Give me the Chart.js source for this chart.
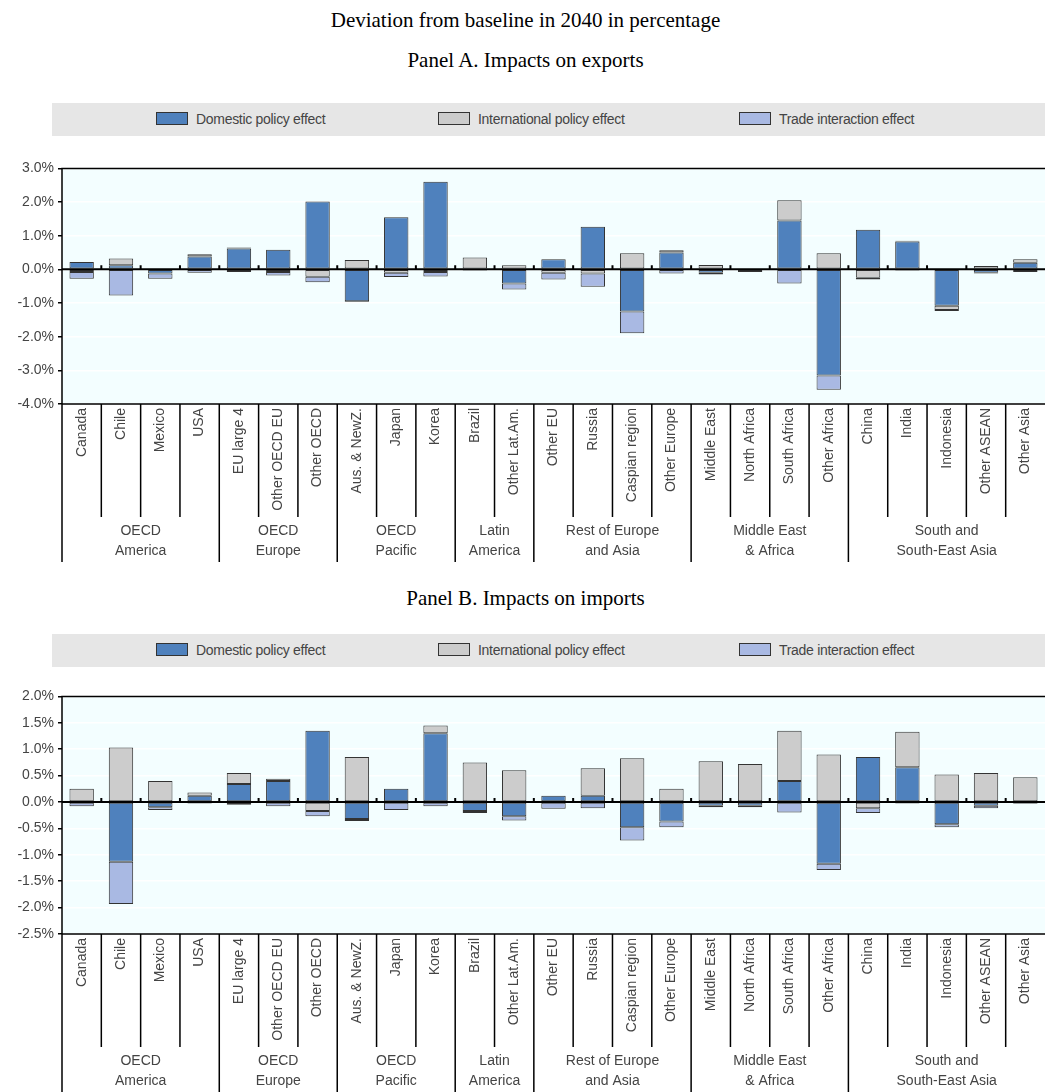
<!DOCTYPE html>
<html>
<head>
<meta charset="utf-8">
<script src="https://cdn.jsdelivr.net/npm/chart.js@4"></script>
<style>
  body { margin: 0; background: #fff; font-family: "Liberation Sans", Arial, sans-serif; }
  .title { font-family: "Liberation Serif", serif; font-size: 21px; text-align: center; color: #000; }
  .legend { margin-left: 52px; width: 993px; height: 33px; background: #e6e6e6; position: relative; font-size: 14px; color: #444; }
  .legend span { position: absolute; top: 8px; letter-spacing: -0.3px; }
  .legend i { display: inline-block; width: 30px; height: 11px; border: 1px solid #333; margin-right: 8px; vertical-align: -1px; }
  canvas { display: block; }
</style>
</head>
<body>
<div class="title" style="padding-top:8px;height:28px">Deviation from baseline in 2040 in percentage</div>
<div class="title" style="padding-top:12px;height:36px">Panel A. Impacts on exports</div>
<div class="legend" style="margin-top:19px"><span style="left:104px"><i style="background:#4f81bd"></i>Domestic policy effect</span><span style="left:386px"><i style="background:#cccccc"></i>International policy effect</span><span style="left:687px"><i style="background:#a9b9e3"></i>Trade interaction effect</span></div>
<div style="height:410px;width:1051px;margin-top:20px"><canvas id="chartA"></canvas></div>
<div class="title" style="height:38px;padding-top:20px">Panel B. Impacts on imports</div>
<div class="legend" style="margin-top:10px"><span style="left:104px"><i style="background:#4f81bd"></i>Domestic policy effect</span><span style="left:386px"><i style="background:#cccccc"></i>International policy effect</span><span style="left:687px"><i style="background:#a9b9e3"></i>Trade interaction effect</span></div>
<div style="height:412px;width:1051px;margin-top:17px"><canvas id="chartB"></canvas></div>
<script>
const categories = ["Canada","Chile","Mexico","USA","EU large 4","Other OECD EU","Other OECD","Aus. & NewZ.","Japan","Korea","Brazil","Other Lat.Am.","Other EU","Russia","Caspian region","Other Europe","Middle East","North Africa","South Africa","Other Africa","China","India","Indonesia","Other ASEAN","Other Asia"];
const groups = [
  { name: ["OECD", "America"], start: 0, end: 3 },
  { name: ["OECD", "Europe"], start: 4, end: 6 },
  { name: ["OECD", "Pacific"], start: 7, end: 9 },
  { name: ["Latin", "America"], start: 10, end: 11 },
  { name: ["Rest of Europe", "and Asia"], start: 12, end: 15 },
  { name: ["Middle East", "& Africa"], start: 16, end: 19 },
  { name: ["South and", "South-East Asia"], start: 20, end: 24 }
];

// Panel A: exports
const exportsDomestic = [0.22,0.12,-0.12,0.38,0.62,0.58,2.02,-0.95,1.55,2.6,-0.03,-0.42,0.3,1.27,-1.25,0.5,-0.1,-0.08,1.45,-3.15,1.18,0.83,-1.08,-0.1,0.2];
const exportsInternational = [-0.08,0.2,0,0.07,0.03,-0.08,-0.22,0.28,-0.1,-0.08,0.35,0.12,-0.1,-0.12,0.48,0.07,0.13,0,0.6,0.48,-0.25,0.02,-0.13,0.1,0.1];
const exportsInteraction = [-0.2,-0.78,-0.16,-0.1,-0.08,-0.1,-0.16,-0.02,-0.13,-0.13,0,-0.18,-0.2,-0.4,-0.65,-0.12,-0.05,0,-0.42,-0.43,-0.05,-0.03,-0.03,-0.02,-0.08];
const exportsTicks = [-4, 3, 1];

// Panel B: imports
const importsDomestic = [0,-1.13,-0.1,0.12,0.34,0.4,1.35,-0.32,0.25,1.3,-0.17,-0.27,0.12,0.12,-0.48,-0.37,-0.07,-0.07,0.4,-1.17,0.85,0.66,-0.42,-0.07,-0.03];
const importsInternational = [0.25,1.03,0.4,0.06,0.21,0.04,-0.17,0.85,0,0.15,0.75,0.6,0,0.52,0.83,0.25,0.77,0.72,0.95,0.9,-0.12,0.67,0.52,0.55,0.47];
const importsInteraction = [-0.08,-0.8,-0.05,-0.03,-0.05,-0.08,-0.1,-0.04,-0.15,-0.08,-0.04,-0.08,-0.13,-0.12,-0.25,-0.11,-0.03,-0.03,-0.2,-0.12,-0.09,-0.03,-0.06,-0.05,-0.01];
const importsTicks = [-2.5, 2, 0.5];

const labelPlugin = {
  id: 'oecdLabels',
  beforeDraw(chart) {
    const { ctx, chartArea: a } = chart;
    ctx.save();
    ctx.fillStyle = '#f3feff';
    ctx.fillRect(a.left, a.top, a.right - a.left, a.bottom - a.top);
    ctx.restore();
  },
  afterDatasetsDraw(chart) {
    const { ctx, chartArea: a, scales: { x, y } } = chart;
    const half = (x.getPixelForValue(1) - x.getPixelForValue(0)) / 2;
    const y0 = y.getPixelForValue(0);
    ctx.save();
    // zero line and ticks
    ctx.strokeStyle = '#000';
    ctx.lineWidth = 2;
    ctx.beginPath();
    ctx.moveTo(a.left, y0); ctx.lineTo(a.right, y0);
    for (let i = 1; i < categories.length; i++) {
      const px = x.getPixelForValue(i) - half;
      ctx.moveTo(px, y0 - 4); ctx.lineTo(px, y0);
    }
    ctx.stroke();
    // frame
    ctx.lineWidth = 1.5;
    ctx.beginPath();
    ctx.moveTo(a.left, a.bottom); ctx.lineTo(a.left, a.top); ctx.lineTo(a.right, a.top);
    ctx.moveTo(a.left, a.bottom); ctx.lineTo(a.right, a.bottom);
    ctx.stroke();
    // category separators
    const groupStarts = groups.map(g => g.start);
    ctx.beginPath();
    for (let i = 0; i < categories.length; i++) {
      const px = x.getPixelForValue(i) - half;
      const long = groupStarts.includes(i);
      ctx.moveTo(px, a.bottom); ctx.lineTo(px, a.bottom + (long ? 158 : 113));
    }
    ctx.stroke();
    // rotated category labels
    ctx.fillStyle = '#444';
    ctx.font = '14px "Liberation Sans Narrow", "Liberation Sans", Arial, sans-serif';
    ctx.textAlign = 'right';
    ctx.textBaseline = 'middle';
    categories.forEach((c, i) => {
      ctx.save();
      ctx.translate(x.getPixelForValue(i), a.bottom + 4);
      ctx.rotate(-Math.PI / 2);
      ctx.fillText(c, 0, 0);
      ctx.restore();
    });
    // group labels
    ctx.textAlign = 'center';
    groups.forEach(g => {
      const cx = (x.getPixelForValue(g.start) + x.getPixelForValue(g.end)) / 2;
      ctx.fillText(g.name[0], cx, a.bottom + 127);
      ctx.fillText(g.name[1], cx, a.bottom + 147);
    });
    ctx.restore();
  }
};

function makePanel(id, dom, intl, inter, ticks) {
  const [min, max, step] = ticks;
  const ds = (label, data, color) => ({
    label, data, backgroundColor: color, borderColor: '#333', borderWidth: 1,
    barPercentage: 0.62, categoryPercentage: 1, borderSkipped: false
  });
  new Chart(document.getElementById(id), {
    type: 'bar',
    data: {
      labels: categories,
      datasets: [
        ds('Domestic policy effect', dom, '#4f81bd'),
        ds('International policy effect', intl, '#cccccc'),
        ds('Trade interaction effect', inter, '#a9b9e3')
      ]
    },
    plugins: [labelPlugin],
    options: {
      responsive: true,
      maintainAspectRatio: false,
      animation: false,
      layout: { padding: { top: 12, bottom: 162, right: 6 } },
      plugins: { legend: { display: false }, tooltip: { enabled: false } },
      scales: {
        x: { stacked: true, display: false },
        y: {
          stacked: true, min, max,
          afterFit(s) { s.width = 62; },
          border: { display: false },
          grid: { color: '#ffffff', lineWidth: 1.5, drawTicks: true, tickLength: 4, tickColor: '#000' },
          ticks: {
            stepSize: step, color: '#444', padding: 4,
            font: { size: 14, family: '"Liberation Sans", Arial, sans-serif' },
            callback: v => v.toFixed(1) + '%'
          }
        }
      }
    }
  });
}

makePanel('chartA', exportsDomestic, exportsInternational, exportsInteraction, exportsTicks);
makePanel('chartB', importsDomestic, importsInternational, importsInteraction, importsTicks);
</script>
</body>
</html>
